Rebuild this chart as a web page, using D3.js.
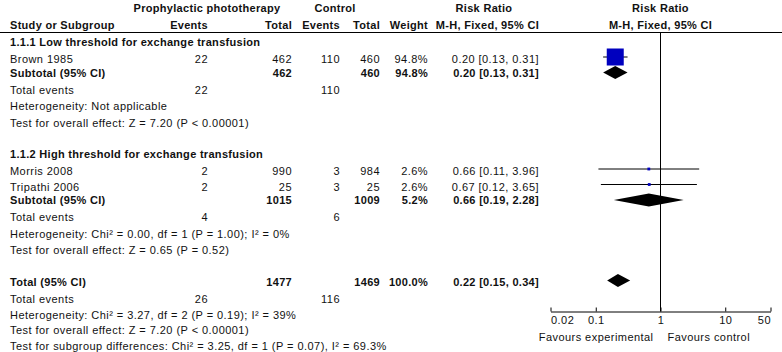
<!DOCTYPE html>
<html>
<head>
<meta charset="utf-8">
<script src="https://cdn.jsdelivr.net/npm/d3@7"></script>
<style>
  body { margin: 0; background: #fff; }
  svg text { font-family: "Liberation Sans", Arial, sans-serif; font-size: 11px; fill: #111; letter-spacing: 0.45px; }
  svg .bold { font-weight: bold; letter-spacing: 0.3px; }
</style>
</head>
<body>
<div id="forest"><svg></svg></div>
<script>
// studies
const studyNames = ['Brown 1985', 'Morris 2008', 'Tripathi 2006']
const studyGroup = [0, 1, 1]
const expEvents = [22, 2, 2]
const expTotal = [462, 990, 25]
const ctlEvents = [110, 3, 3]
const ctlTotal = [460, 984, 25]
const weights = [94.8, 2.6, 2.6]
const rr = [0.20, 0.66, 0.67]
const rrLow = [0.13, 0.11, 0.12]
const rrHigh = [0.31, 3.96, 3.65]

// subgroups
const groupNames = ['1.1.1 Low threshold for exchange transfusion', '1.1.2 High threshold for exchange transfusion']
const subExpTotal = [462, 1015]
const subCtlTotal = [460, 1009]
const subExpEvents = [22, 4]
const subCtlEvents = [110, 6]
const subWeight = [94.8, 5.2]
const subRR = [0.20, 0.66]
const subLow = [0.13, 0.19]
const subHigh = [0.31, 2.28]
const subHet = ['Heterogeneity: Not applicable', 'Heterogeneity: Chi² = 0.00, df = 1 (P = 1.00); I² = 0%']
const subTest = ['Test for overall effect: Z = 7.20 (P < 0.00001)', 'Test for overall effect: Z = 0.65 (P = 0.52)']

// overall
const totExpTotal = 1477, totCtlTotal = 1469
const totExpEvents = 26, totCtlEvents = 116
const totWeight = 100.0
const totRR = 0.22, totLow = 0.15, totHigh = 0.34
const totNotes = [
    'Heterogeneity: Chi² = 3.27, df = 2 (P = 0.19); I² = 39%',
    'Test for overall effect: Z = 7.20 (P < 0.00001)',
    'Test for subgroup differences: Chi² = 3.25, df = 1 (P = 0.07), I² = 69.3%'
]

const axisTicks = [0.02, 0.1, 1, 10, 50]
const favourLabels = ['Favours experimental', 'Favours control']

const width = 782, height = 352
const COL = { label: 10, expEv: 208, expTot: 292, ctlEv: 340, ctlTot: 380, weight: 428, ci: 539 }
const HEADER_LINE = 32.5
const AXIS_Y = 311.5

const $svg = d3.select('#forest svg').attr('width', width).attr('height', height)

const x = d3.scaleLog().domain([0.02, 50]).range([550.5, 770.5])
const boxSide = d3.scaleSqrt().domain([0, 94.8]).range([0, 17])

const fmt2 = d3.format('.2f')
const ciText = (m, l, h) => `${fmt2(m)} [${fmt2(l)}, ${fmt2(h)}]`
const pct = d3.format('.1f')

// build the row list
let rows = []
let yCur = 42
groupNames.forEach((g, gi) => {
    if (gi > 0) yCur += 31
    rows.push({ type: 'heading', y: yCur, text: g })
    const idx = studyNames.map((d, i) => i).filter(i => studyGroup[i] === gi)
    idx.forEach((i, k) => {
        yCur += k === 0 ? 17.5 : 15.5
        rows.push({ type: 'study', y: yCur, i })
    })
    yCur += 13.5
    rows.push({ type: 'subtotal', y: yCur, gi })
    yCur += 17
    rows.push({ type: 'events', y: yCur, e: subExpEvents[gi], c: subCtlEvents[gi] })
    yCur += 16.5
    rows.push({ type: 'note', y: yCur, text: subHet[gi] })
    yCur += 16.5
    rows.push({ type: 'note', y: yCur, text: subTest[gi] })
})
yCur += 31.5
rows.push({ type: 'total', y: yCur })
yCur += 17
rows.push({ type: 'events', y: yCur, e: totExpEvents, c: totCtlEvents })
totNotes.forEach(t => {
    yCur += 15.8
    rows.push({ type: 'note', y: yCur, text: t })
})

function addText(g, xPos, y, text, anchor, bold) {
    g.append('text')
        .attr('x', xPos)
        .attr('y', y)
        .attr('dy', '0.35em')
        .attr('text-anchor', anchor || 'start')
        .classed('bold', !!bold)
        .text(text)
}

function drawHeader() {
    const g = $svg.append('g')
    addText(g, 207, 8, 'Prophylactic phototherapy', 'middle', true)
    addText(g, 335, 8, 'Control', 'middle', true)
    addText(g, 484, 8, 'Risk Ratio', 'middle', true)
    addText(g, x(1), 8, 'Risk Ratio', 'middle', true)
    addText(g, COL.label, 25, 'Study or Subgroup', 'start', true)
    addText(g, COL.expEv, 25, 'Events', 'end', true)
    addText(g, COL.expTot, 25, 'Total', 'end', true)
    addText(g, COL.ctlEv, 25, 'Events', 'end', true)
    addText(g, COL.ctlTot, 25, 'Total', 'end', true)
    addText(g, COL.weight, 25, 'Weight', 'end', true)
    addText(g, COL.ci, 25, 'M-H, Fixed, 95% CI', 'end', true)
    addText(g, x(1), 25, 'M-H, Fixed, 95% CI', 'middle', true)
    g.append('line')
        .attr('x1', 0).attr('x2', width)
        .attr('y1', HEADER_LINE).attr('y2', HEADER_LINE)
        .attr('stroke', '#000')
}

function diamond(g, y, m, l, h, half) {
    const pts = [[x(l), y], [x(m), y - half], [x(h), y], [x(m), y + half]]
    g.append('path')
        .attr('d', 'M' + pts.join('L') + 'Z')
        .attr('fill', '#000')
}

function drawRows() {
    const gText = $svg.append('g')
    const gPlot = $svg.append('g')

    // line of no effect
    gPlot.append('line')
        .attr('x1', x(1)).attr('x2', x(1))
        .attr('y1', HEADER_LINE).attr('y2', AXIS_Y)
        .attr('stroke', '#000')

    rows.forEach(r => {
        if (r.type === 'heading') {
            addText(gText, COL.label, r.y, r.text, 'start', true)
        } else if (r.type === 'study') {
            const i = r.i
            addText(gText, COL.label, r.y, studyNames[i])
            addText(gText, COL.expEv, r.y, expEvents[i], 'end')
            addText(gText, COL.expTot, r.y, expTotal[i], 'end')
            addText(gText, COL.ctlEv, r.y, ctlEvents[i], 'end')
            addText(gText, COL.ctlTot, r.y, ctlTotal[i], 'end')
            addText(gText, COL.weight, r.y, pct(weights[i]) + '%', 'end')
            addText(gText, COL.ci, r.y, ciText(rr[i], rrLow[i], rrHigh[i]), 'end')
            const my = r.y - 2.5
            gPlot.append('line')
                .attr('x1', x(rrLow[i])).attr('x2', x(rrHigh[i]))
                .attr('y1', my).attr('y2', my)
                .attr('stroke', '#000')
            const s = Math.max(2, boxSide(weights[i]))
            gPlot.append('rect')
                .attr('x', x(rr[i]) - s / 2).attr('y', my - s / 2)
                .attr('width', s).attr('height', s)
                .attr('fill', '#0000bf')
        } else if (r.type === 'subtotal') {
            const gi = r.gi
            addText(gText, COL.label, r.y, 'Subtotal (95% CI)', 'start', true)
            addText(gText, COL.expTot, r.y, subExpTotal[gi], 'end', true)
            addText(gText, COL.ctlTot, r.y, subCtlTotal[gi], 'end', true)
            addText(gText, COL.weight, r.y, pct(subWeight[gi]) + '%', 'end', true)
            addText(gText, COL.ci, r.y, ciText(subRR[gi], subLow[gi], subHigh[gi]), 'end', true)
            diamond(gPlot, r.y - 0.5, subRR[gi], subLow[gi], subHigh[gi], 6.5)
        } else if (r.type === 'total') {
            addText(gText, COL.label, r.y, 'Total (95% CI)', 'start', true)
            addText(gText, COL.expTot, r.y, totExpTotal, 'end', true)
            addText(gText, COL.ctlTot, r.y, totCtlTotal, 'end', true)
            addText(gText, COL.weight, r.y, pct(totWeight) + '%', 'end', true)
            addText(gText, COL.ci, r.y, ciText(totRR, totLow, totHigh), 'end', true)
            diamond(gPlot, r.y - 1.5, totRR, totLow, totHigh, 6.5)
        } else if (r.type === 'events') {
            addText(gText, COL.label, r.y, 'Total events')
            addText(gText, COL.expEv, r.y, r.e, 'end')
            addText(gText, COL.ctlEv, r.y, r.c, 'end')
        } else {
            addText(gText, COL.label, r.y, r.text)
        }
    })
}

function drawAxis() {
    const axis = d3.axisBottom(x)
        .tickValues(axisTicks)
        .tickFormat(d => String(d))
        .tickSizeInner(-4)
        .tickSizeOuter(0)
        .tickPadding(5)

    const $axis = $svg.append('g')
        .attr('transform', `translate(0, ${AXIS_Y})`)
        .call(axis)
    $axis.select('.domain').attr('stroke', '#000')
    $axis.selectAll('.tick line').attr('stroke', '#000')
    $axis.selectAll('.tick text')
        .attr('text-anchor', (d, i) => i === 0 ? 'start' : (i === axisTicks.length - 1 ? 'end' : 'middle'))
    $axis.attr('font-family', null).attr('font-size', null)

    const g = $svg.append('g')
    addText(g, x(1) - 7, 337, favourLabels[0], 'end')
    addText(g, x(1) + 7, 337, favourLabels[1], 'start')
}

drawHeader()
drawRows()
drawAxis()
</script>
</body>
</html>
